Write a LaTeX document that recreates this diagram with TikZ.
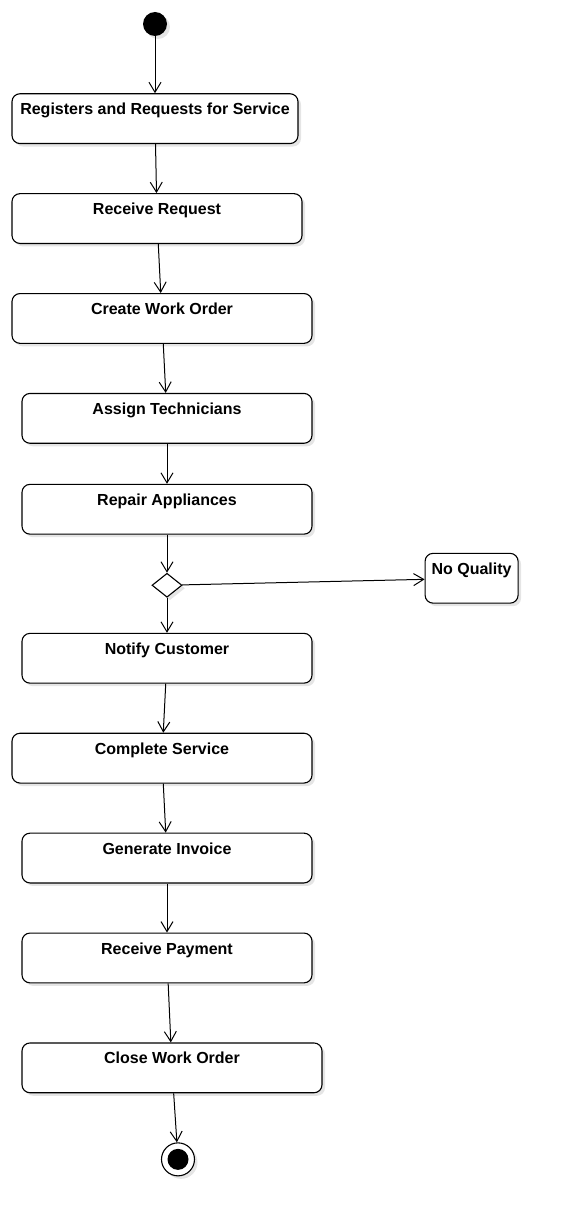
\documentclass[tikz,border=0pt]{standalone}
\usepackage{fontspec}
\setmainfont{Liberation Sans}
\usetikzlibrary{positioning, arrows.meta, shapes.geometric, shadows}
\tikzset{
  activity/.style={rectangle, rounded corners=8pt, draw=black, line width=1.1pt, fill=white, inner xsep=0pt, inner ysep=0pt, text height=21pt, text depth=28.8pt, font=\bfseries\fontsize{16}{19}\selectfont, drop shadow={shadow xshift=3pt, shadow yshift=-3pt, fill=black, opacity=0.1}},
  branch/.style={diamond, draw=black, line width=1.1pt, fill=white, minimum width=30pt, minimum height=24pt, inner sep=0pt, drop shadow={shadow xshift=3pt, shadow yshift=-3pt, fill=black, opacity=0.1}},
  initial/.style={circle, fill=black, minimum size=24pt, inner sep=0pt, drop shadow={shadow xshift=3pt, shadow yshift=-3pt, fill=black, opacity=0.1}},
  final/.style={circle, draw=black, line width=1.1pt, fill=white, minimum size=33pt, inner sep=0pt, path picture={\fill[black] (path picture bounding box.center) circle (10.5pt);}, drop shadow={shadow xshift=3pt, shadow yshift=-3pt, fill=black, opacity=0.1}},
  arrow/.style={line width=1pt, -{Straight Barb[length=10pt, width=12pt]}}
}
\begin{document}
\begin{tikzpicture}
        \path[use as bounding box, fill=white] (0,0) rectangle (567pt,-1225pt);

        \node (start) [initial] at (155pt,-24pt) {};
        \node (register) [activity, minimum width=286pt, below=57pt of start] {Registers and Requests for Service};
        \node (receive) [activity, minimum width=290pt, below=49pt of register, xshift=2pt] {Receive Request};
        \node (workorder) [activity, minimum width=300pt, below=49pt of receive, xshift=5pt] {Create Work Order};
        \node (assign) [activity, minimum width=290pt, below=49pt of workorder, xshift=5pt] {Assign Technicians};
        \node (repair) [activity, minimum width=290pt, below=40pt of assign] {Repair Appliances};
        \node (check) [branch, below=38pt of repair] {};
        \node (noquality) [activity, minimum width=93pt, right=242pt of check, yshift=7pt] {No Quality};
        \node (notify) [activity, minimum width=290pt, below=35pt of check] {Notify Customer};
        \node (complete) [activity, minimum width=300pt, below=49pt of notify, xshift=-5pt] {Complete Service};
        \node (invoice) [activity, minimum width=290pt, below=49pt of complete, xshift=5pt] {Generate Invoice};
        \node (payment) [activity, minimum width=290pt, below=49pt of invoice] {Receive Payment};
        \node (closeorder) [activity, minimum width=300pt, below=59pt of payment, xshift=5pt] {Close Work Order};
        \node (finish) [final, below=49pt of closeorder, xshift=6pt] {};

        \draw [arrow] (start) -- (register);
        \draw [arrow] (register) -- (receive);
        \draw [arrow] (receive) -- (workorder);
        \draw [arrow] (workorder) -- (assign);
        \draw [arrow] (assign) -- (repair);
        \draw [arrow] (repair) -- (check);

        % branch after the repair
        \draw [arrow] (check) -- (noquality);
        \draw [arrow] (check) -- (notify);

        \draw [arrow] (notify) -- (complete);
        \draw [arrow] (complete) -- (invoice);
        \draw [arrow] (invoice) -- (payment);
        \draw [arrow] (payment) -- (closeorder);
        \draw [arrow] (closeorder) -- (finish);

    \end{tikzpicture}
\end{document}
